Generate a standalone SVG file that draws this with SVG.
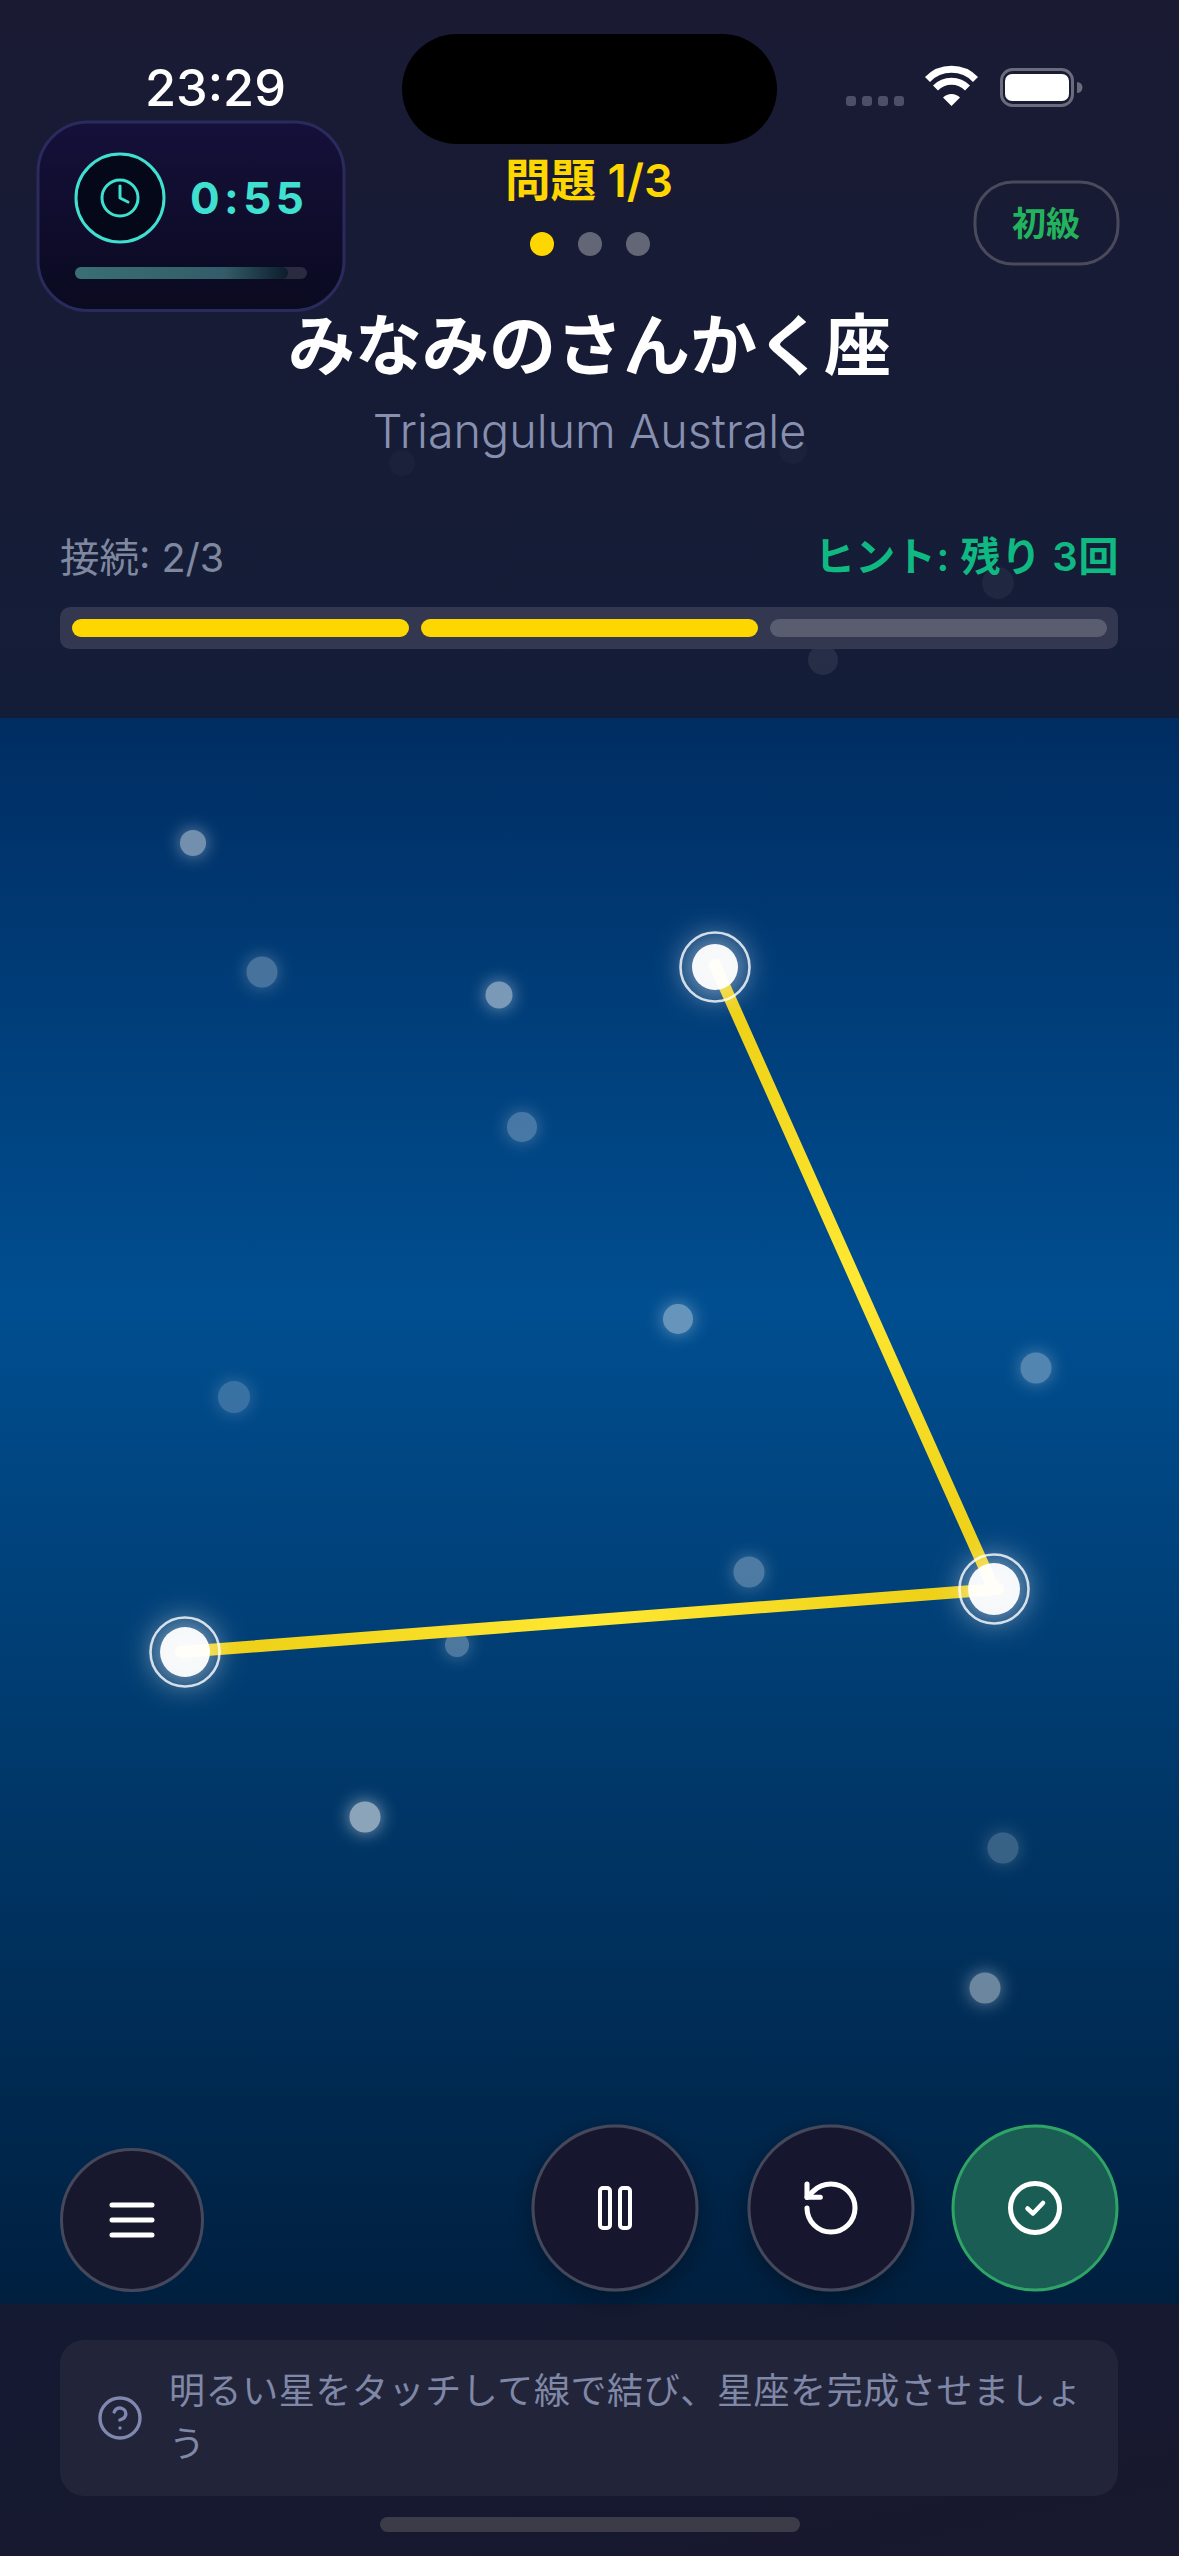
<svg xmlns="http://www.w3.org/2000/svg" width="1179" height="2556" viewBox="0 0 1179 2556">
<defs>
<linearGradient id="pageBg" x1="0" y1="0" x2="0" y2="1"><stop offset="0" stop-color="#1a1a33"/><stop offset="1" stop-color="#141d38"/></linearGradient>
<linearGradient id="footBg" x1="0" y1="0" x2="1" y2="1"><stop offset="0" stop-color="#141a32"/><stop offset="1" stop-color="#18182e"/></linearGradient>
<linearGradient id="sky" x1="0" y1="0" x2="0" y2="1"><stop offset="0" stop-color="#002d62"/><stop offset="0.37" stop-color="#004e90"/><stop offset="1" stop-color="#001f3f"/></linearGradient>
<linearGradient id="cardBg" x1="0" y1="0" x2="0" y2="1"><stop offset="0" stop-color="#15103a"/><stop offset="1" stop-color="#0a0a20"/></linearGradient>
<linearGradient id="timeBar" x1="0" y1="0" x2="1" y2="0"><stop offset="0" stop-color="#3a6f74"/><stop offset="0.7" stop-color="#335c68"/><stop offset="1" stop-color="#0d1c2c"/></linearGradient>
<linearGradient id="line1" gradientUnits="userSpaceOnUse" x1="715" y1="967" x2="994" y2="1589"><stop offset="0" stop-color="#ebcd13"/><stop offset="0.5" stop-color="#ffe833"/><stop offset="1" stop-color="#ebcd13"/></linearGradient>
<linearGradient id="line2" gradientUnits="userSpaceOnUse" x1="994" y1="1589" x2="185" y2="1652"><stop offset="0" stop-color="#ebcd13"/><stop offset="0.5" stop-color="#ffe833"/><stop offset="1" stop-color="#ebcd13"/></linearGradient>
<filter id="glowS" x="-150%" y="-150%" width="400%" height="400%"><feGaussianBlur in="SourceGraphic" stdDeviation="9" result="b"/><feMerge><feMergeNode in="b"/><feMergeNode in="SourceGraphic"/></feMerge></filter>
<filter id="glowL" x="-150%" y="-150%" width="400%" height="400%"><feGaussianBlur in="SourceGraphic" stdDeviation="15"/></filter>
<filter id="shadow" x="-40%" y="-40%" width="180%" height="180%"><feDropShadow dx="0" dy="6" stdDeviation="12" flood-color="#000" flood-opacity="0.35"/></filter>
</defs>
<style>
text{font-family:Inter,"Noto Sans CJK JP","Noto Sans",sans-serif}
.star circle{fill:#fff}
.star{filter:url(#glowS)}
.ring{fill:none;stroke:#fff;stroke-width:2.6;stroke-opacity:.8}
.core{fill:#fff;fill-opacity:.95}
.halo{fill:#fff;fill-opacity:.5;filter:url(#glowL)}
.btn{fill:#17182e;stroke:#45475a;stroke-width:3}
.ico{fill:none;stroke:#fff;stroke-linecap:round;stroke-linejoin:round}
.seg{fill:#ffd700}
.hint{fill:#8088a8;font-size:36px;letter-spacing:.6px}
.sb{fill:#4d4f66}
</style>
<rect id="page" width="1179" height="718" fill="url(#pageBg)"/>
<rect id="sky-area" y="718" width="1179" height="1586" fill="url(#sky)"/>
<rect id="footer" y="2304" width="1179" height="252" fill="url(#footBg)"/>

<g id="faint-stars" fill="#fff">
<circle id="faint-1" cx="402" cy="463" r="13" fill-opacity=".025"/>
<circle id="faint-2" cx="793" cy="450" r="14" fill-opacity=".025"/>
<circle id="faint-3" cx="998" cy="583" r="16" fill-opacity=".05"/>
<circle id="faint-4" cx="823" cy="660" r="15" fill-opacity=".08"/>
</g>

<g id="status-bar">
<text x="215.500" y="106" text-anchor="middle" font-size="50.500" font-weight="500" fill="#fff">23:29</text>
<rect id="island" x="402" y="34" width="375" height="110" rx="55" fill="#000"/>
<rect class="sb" x="846" y="96" width="10" height="10" rx="3"/><rect class="sb" x="862" y="96" width="10" height="10" rx="3"/><rect class="sb" x="878" y="96" width="10" height="10" rx="3"/><rect class="sb" x="894" y="96" width="10" height="10" rx="3"/>
<g id="wifi" fill="none" stroke="#fff" stroke-width="7">
<path d="M927.500 79.500A33.500 33.500 0 0 1 975.500 79.500"/>
<path d="M935.500 88A22.500 22.500 0 0 1 967.500 88"/>
<path d="M943 97.500L951.500 106L960 97.500A12 12 0 0 0 943 97.500Z" fill="#fff" stroke="none"/>
</g>
<rect x="1001.500" y="69.500" width="71" height="36" rx="11" fill="none" stroke="#6a6c7c" stroke-width="3"/>
<rect x="1005" y="74" width="64" height="27" rx="7" fill="#fff"/>
<path d="M1077 82a5.500 5.500 0 0 1 0 11z" fill="#6a6c7c"/>
</g>

<g id="timer-card">
<rect x="38" y="122" width="306" height="188.500" rx="50" fill="url(#cardBg)" stroke="#2a2a5c" stroke-width="3"/>
<circle cx="120" cy="198" r="44" fill="#050818" stroke="#40e0d0" stroke-width="3"/>
<circle cx="120" cy="198" r="18" fill="none" stroke="#40e0d0" stroke-width="3"/>
<path d="M120 186V198L128 202" fill="none" stroke="#40e0d0" stroke-width="3" stroke-linecap="round" stroke-linejoin="round"/>
<text x="190" y="214" font-size="44" font-weight="700" letter-spacing="4.400" fill="#40e0d0">0:55</text>
<rect x="75" y="267" width="232" height="12" rx="6" fill="#2a2a40"/>
<rect x="75" y="267" width="213" height="12" rx="6" fill="url(#timeBar)"/>
</g>

<g id="question-header">
<text x="589" y="197" text-anchor="middle" font-size="45.500" font-weight="600" fill="#ffd700">問題 1/3</text>
<circle cx="542" cy="244" r="12" fill="#ffd700"/><circle cx="590" cy="244" r="12" fill="#636675"/><circle cx="638" cy="244" r="12" fill="#636675"/>
</g>

<g id="level-badge">
<rect x="975" y="182" width="143" height="82" rx="38" fill="none" stroke="#4a4a5c" stroke-width="3"/>
<text x="1046" y="236" text-anchor="middle" font-size="34" font-weight="600" fill="#22b35c">初級</text>
</g>

<g id="title">
<text x="589.500" y="370" text-anchor="middle" font-size="67" font-weight="700" fill="#fff">みなみのさんかく座</text>
<text x="589.500" y="448" text-anchor="middle" font-size="46.700" font-weight="300" fill="#8890b0">Triangulum Australe</text>
</g>

<g id="progress">
<text x="60" y="572" font-size="39.500" fill="#8088a0">接続: 2/3</text>
<text x="1119" y="571" text-anchor="end" font-size="40" font-weight="600" letter-spacing=".6" fill="#10b981">ヒント: 残り 3回</text>
<rect x="60" y="607" width="1058" height="42" rx="10" fill="#333750"/>
<rect class="seg" x="72" y="619" width="337" height="18" rx="9"/>
<rect class="seg" x="421" y="619" width="337" height="18" rx="9"/>
<rect x="770" y="619" width="337" height="18" rx="9" fill="#5a5d70"/>
</g>

<g id="stars">
<g id="star-1" class="star" opacity=".45"><circle cx="193" cy="843" r="13"/></g>
<g id="star-2" class="star" opacity=".28"><circle cx="262" cy="972" r="15.500"/></g>
<g id="star-3" class="star" opacity=".48"><circle cx="499" cy="995" r="13.500"/></g>
<g id="star-4" class="star" opacity=".28"><circle cx="522" cy="1127" r="15"/></g>
<g id="star-5" class="star" opacity=".4"><circle cx="678" cy="1319" r="15"/></g>
<g id="star-6" class="star" opacity=".32"><circle cx="1036" cy="1368" r="15.500"/></g>
<g id="star-7" class="star" opacity=".22"><circle cx="234" cy="1397" r="16"/></g>
<g id="star-8" class="star" opacity=".3"><circle cx="749" cy="1572" r="15.500"/></g>
<g id="star-9" class="star" opacity=".3"><circle cx="457" cy="1645" r="12"/></g>
<g id="star-10" class="star" opacity=".55"><circle cx="365" cy="1817" r="15.500"/></g>
<g id="star-11" class="star" opacity=".22"><circle cx="1003" cy="1848" r="15.500"/></g>
<g id="star-12" class="star" opacity=".42"><circle cx="985" cy="1988" r="15.500"/></g>
</g>

<g id="connectors" fill="none" stroke-width="12" stroke-linecap="round">
<path d="M715 965L994 1589" stroke="url(#line1)"/>
<path d="M998 1589L181 1652" stroke="url(#line2)"/>
</g>

<g id="star-a"><circle class="halo" cx="715" cy="967" r="30"/><circle class="core" cx="715" cy="967" r="23"/><circle class="ring" cx="715" cy="967" r="34.500"/></g>
<g id="star-b"><circle class="halo" cx="994" cy="1589" r="32"/><circle class="core" cx="994" cy="1589" r="26"/><circle class="ring" cx="994" cy="1589" r="34.500"/></g>
<g id="star-c"><circle class="halo" cx="185" cy="1652" r="32"/><circle class="core" cx="185" cy="1652" r="25"/><circle class="ring" cx="185" cy="1652" r="34.500"/></g>

<g id="menu-button">
<circle class="btn" cx="132" cy="2220" r="70.500"/>
<path class="ico" stroke-width="5" d="M112 2205H152M112 2220H152M112 2235H152"/>
</g>
<g id="pause-button">
<circle class="btn" cx="615" cy="2208" r="82" filter="url(#shadow)"/>
<g class="ico" stroke-width="4"><rect x="600" y="2188" width="10" height="40" rx="3"/><rect x="620" y="2188" width="10" height="40" rx="3"/></g>
</g>
<g id="restart-button">
<circle class="btn" cx="831" cy="2208" r="82" filter="url(#shadow)"/>
<g class="ico" stroke-width="1.900" transform="translate(799 2176) scale(2.667)"><path d="M3 12a9 9 0 1 0 9-9 9.750 9.750 0 0 0-6.740 2.740L3 8"/><path d="M3 3v5h5"/></g>
</g>
<g id="check-button">
<circle cx="1035" cy="2208" r="82" fill="#1a5d55" stroke="#2fa565" stroke-width="3"/>
<circle class="ico" cx="1035" cy="2208" r="24.500" stroke-width="5"/>
<path class="ico" stroke-width="4.500" d="M1027.500 2208.500L1033 2213.500L1043 2203"/>
</g>

<g id="hint-box">
<rect x="60" y="2340" width="1058" height="156" rx="24" fill="#222539"/>
<g fill="none" stroke="#8088b0" stroke-width="1.700" stroke-linecap="round" stroke-linejoin="round" transform="translate(96 2394) scale(2)"><circle cx="12" cy="12" r="10"/><path d="M9.090 9a3 3 0 0 1 5.830 1c0 2-3 3-3 3"/><path d="M12 17h.01"/></g>
<text class="hint" x="169" y="2404">明るい星をタッチして線で結び、星座を完成させましょ</text>
<text class="hint" x="169" y="2457">う</text>
</g>
<rect id="home-indicator" x="380" y="2517" width="420" height="15" rx="7.500" fill="#3c3c48"/>
</svg>
